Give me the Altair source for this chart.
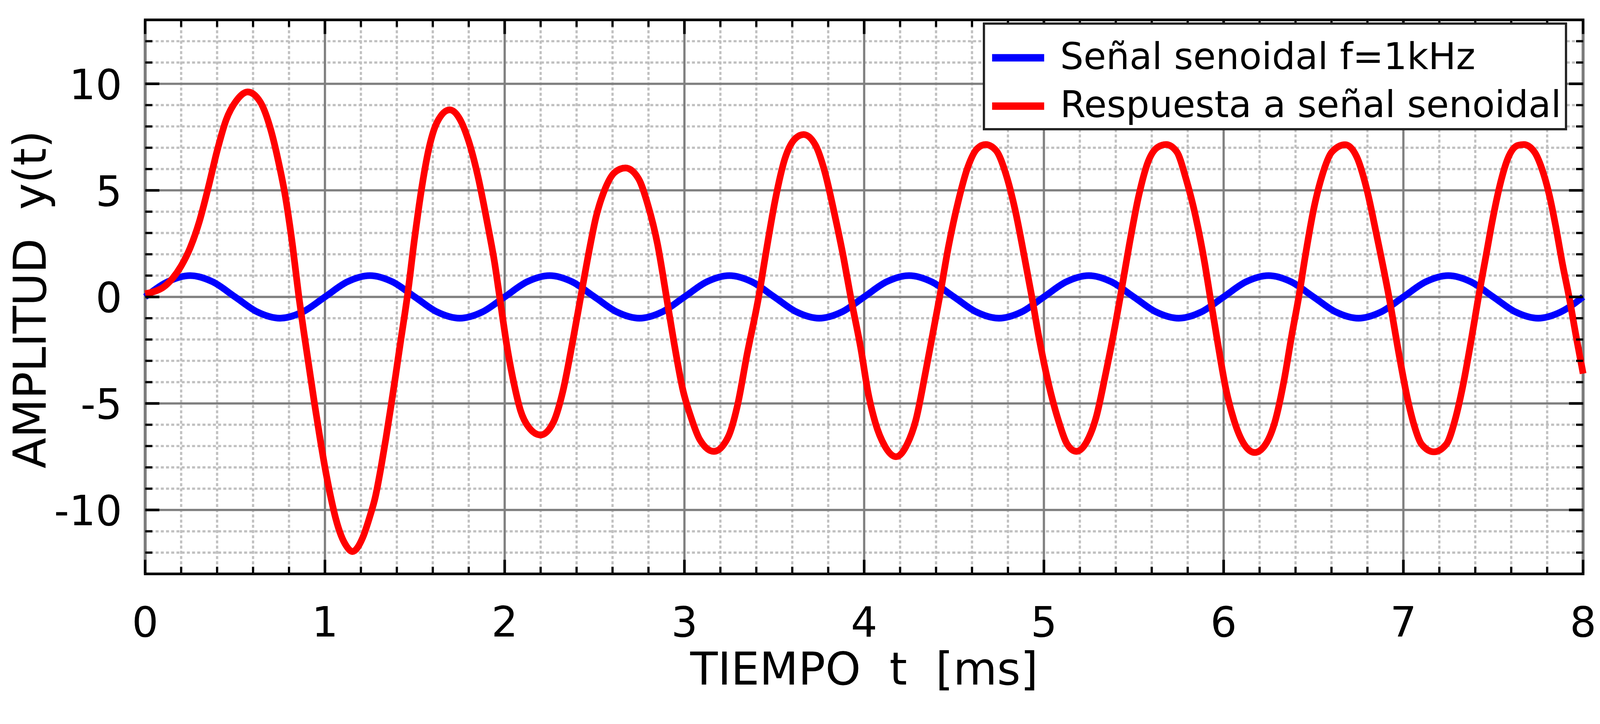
import altair as alt
import pandas as pd

W, H = 3866, 1490

serie_names = ["Señal senoidal f=1kHz", "Respuesta a señal senoidal"]
serie_colors = ["#0000ff", "#ff0000"]

blue_t = [0.0, 0.125, 0.25, 0.375, 0.5, 0.625, 0.75, 0.875, 1.0, 1.125, 1.25, 1.375, 1.5, 1.625, 1.75, 1.875,
          2.0, 2.125, 2.25, 2.375, 2.5, 2.625, 2.75, 2.875, 3.0, 3.125, 3.25, 3.375, 3.5, 3.625, 3.75, 3.875,
          4.0, 4.125, 4.25, 4.375, 4.5, 4.625, 4.75, 4.875, 5.0, 5.125, 5.25, 5.375, 5.5, 5.625, 5.75, 5.875,
          6.0, 6.125, 6.25, 6.375, 6.5, 6.625, 6.75, 6.875, 7.0, 7.125, 7.25, 7.375, 7.5, 7.625, 7.75, 7.875, 8.0]
blue_v = [0.0, 0.71, 1.0, 0.71, 0.0, -0.71, -1.0, -0.71, 0.0, 0.71, 1.0, 0.71, 0.0, -0.71, -1.0, -0.71,
          0.0, 0.71, 1.0, 0.71, 0.0, -0.71, -1.0, -0.71, 0.0, 0.71, 1.0, 0.71, 0.0, -0.71, -1.0, -0.71,
          0.0, 0.71, 1.0, 0.71, 0.0, -0.71, -1.0, -0.71, 0.0, 0.71, 1.0, 0.71, 0.0, -0.71, -1.0, -0.71,
          0.0, 0.71, 1.0, 0.71, 0.0, -0.71, -1.0, -0.71, 0.0, 0.71, 1.0, 0.71, 0.0, -0.71, -1.0, -0.71, 0.0]

red_t = [0.00, 0.05, 0.10, 0.15, 0.20, 0.25, 0.30, 0.35, 0.40, 0.45, 0.51, 0.57, 0.64, 0.70, 0.74, 0.78, 0.82, 0.855,
         0.88, 0.91, 0.94, 0.97, 1.00, 1.03, 1.06, 1.09, 1.12, 1.153, 1.21, 1.25, 1.28, 1.314, 1.34, 1.366, 1.393,
         1.419, 1.446, 1.458, 1.498, 1.54, 1.582, 1.624, 1.694, 1.75, 1.80, 1.85, 1.905, 1.944, 1.972,
         2.016, 2.055, 2.088, 2.134, 2.20, 2.27, 2.324, 2.377, 2.423, 2.462, 2.508, 2.56, 2.613, 2.672, 2.744,
         2.797, 2.85, 2.90, 2.94, 2.993, 3.033, 3.085, 3.164, 3.243, 3.295, 3.348, 3.413, 3.453, 3.505, 3.558,
         3.61, 3.663, 3.728, 3.78, 3.833, 3.886, 3.925, 3.983, 4.022, 4.062, 4.115, 4.178, 4.24, 4.287, 4.34,
         4.38, 4.42, 4.47, 4.524, 4.577, 4.63, 4.676, 4.735, 4.788, 4.84, 4.893, 4.933, 4.973, 5.026, 5.08,
         5.13, 5.18, 5.238, 5.29, 5.343, 5.396, 5.425, 5.476, 5.528, 5.58, 5.634, 5.68, 5.74, 5.79, 5.845,
         5.897, 5.925, 5.966, 6.012, 6.058, 6.113, 6.173, 6.233, 6.288, 6.335, 6.38, 6.418, 6.454, 6.50,
         6.547, 6.602, 6.676, 6.74, 6.795, 6.85, 6.92, 6.98, 7.022, 7.06, 7.10, 7.17, 7.24, 7.286, 7.333,
         7.38, 7.418, 7.458, 7.497, 7.535, 7.58, 7.637, 7.67, 7.73, 7.77, 7.81, 7.847, 7.886, 7.922, 7.963, 8.00]
red_v = [0.15, 0.25, 0.45, 0.85, 1.45, 2.3, 3.5, 5.1, 6.85, 8.3, 9.24, 9.62, 9.15, 7.80, 6.40, 4.70, 2.40, 0.0,
         -1.5, -3.2, -4.9, -6.5, -8.0, -9.3, -10.4, -11.2, -11.7, -11.95, -11.3, -10.3, -9.4, -7.9, -6.6, -5.2, -3.7,
         -2.2, -0.7, 0.0, 2.7, 5.2, 7.1, 8.2, 8.78, 8.35, 7.3, 5.7, 3.4, 1.6, 0.0,
         -2.49, -4.2, -5.33, -6.12, -6.48, -5.9, -4.42, -2.15, 0.0, 1.81, 3.74, 5.1, 5.85, 6.05, 5.56,
         4.31, 2.49, 0.0, -2.04, -4.42, -5.56, -6.69, -7.25, -6.58, -5.1, -2.72, 0.0, 2.04, 4.54, 6.46,
         7.37, 7.62, 7.14, 5.9, 3.97, 1.81, 0.0, -2.5, -4.5, -5.9, -7.0, -7.5, -6.9, -5.8, -3.6,
         -1.8, 0.0, 2.4, 4.5, 6.1, 6.97, 7.15, 6.86, 5.78, 4.08, 1.81, 0.0, -1.93, -4.08, -5.78,
         -6.92, -7.25, -6.8, -5.67, -3.63, -1.36, 0.0, 2.49, 4.76, 6.35, 7.03, 7.15, 6.8, 5.56, 3.74,
         1.47, 0.0, -2.1, -4.3, -5.8, -6.9, -7.3, -6.92, -5.78, -3.97, -1.75, 0.0, 1.9, 4.08,
         5.67, 6.8, 7.14, 6.58, 5.1, 2.95, 0.0, -2.9, -4.74, -6.03, -6.9, -7.27, -6.9, -5.82, -4.09,
         -1.9, 0.0, 1.85, 3.66, 5.17, 6.47, 7.11, 7.15, 6.79, 6.03, 4.85, 3.34, 1.51, 0.0, -1.94, -3.6]

x_major = [0, 1, 2, 3, 4, 5, 6, 7, 8]
x_labels = ["0", "1", "2", "3", "4", "5", "6", "7", "8"]
x_minor = [0.2, 0.4, 0.6, 0.8, 1.2, 1.4, 1.6, 1.8, 2.2, 2.4, 2.6, 2.8, 3.2, 3.4, 3.6, 3.8,
           4.2, 4.4, 4.6, 4.8, 5.2, 5.4, 5.6, 5.8, 6.2, 6.4, 6.6, 6.8, 7.2, 7.4, 7.6, 7.8]
y_major = [-10, -5, 0, 5, 10]
y_labels = ["-10", "-5", "0", "5", "10"]
y_minor = [-12, -11, -9, -8, -7, -6, -4, -3, -2, -1, 1, 2, 3, 4, 6, 7, 8, 9, 11, 12]

x_title = "TIEMPO\u00a0\u00a0t\u00a0\u00a0[ms]"
y_title = "AMPLITUD\u00a0\u00a0y(t)"

FONT = "DejaVu Sans"
xs = alt.Scale(domain=[0, 8], nice=False, zero=False)
ys = alt.Scale(domain=[-13, 13], nice=False, zero=False)

xmaj = pd.DataFrame({"gx": x_major, "lab": x_labels})
xmin = pd.DataFrame({"gx": x_minor})
ymaj = pd.DataFrame({"gy": y_major, "lab": y_labels})
ymin = pd.DataFrame({"gy": y_minor})

MAJ, MIN = 38, 19


def vrule(df, y0, y1, **kw):
    return alt.Chart(df).mark_rule(**kw).encode(
        x=alt.X("gx:Q", scale=xs, axis=None), y=alt.value(y0), y2=alt.value(y1))


def hrule(df, x0, x1, **kw):
    return alt.Chart(df).mark_rule(**kw).encode(
        y=alt.Y("gy:Q", scale=ys, axis=None), x=alt.value(x0), x2=alt.value(x1))


minor_style = dict(color="#c0c0c0", strokeWidth=6, strokeDash=[8, 6])
major_style = dict(color="#808080", strokeWidth=6)
tick_maj = dict(color="black", strokeWidth=7)
tick_min = dict(color="black", strokeWidth=6)

legend = alt.Legend(title=None, orient="none", legendX=2255, legendY=10, direction="vertical",
                    symbolType="stroke", symbolStrokeWidth=20, symbolSize=19600, symbolOffset=0,
                    labelOffset=33, labelFontSize=99, labelFont=FONT, labelColor="black", labelLimit=3000,
                    rowPadding=-24, padding=12, strokeColor="#222222", fillColor="white")
color = alt.Color("serie:N", scale=alt.Scale(domain=serie_names, range=serie_colors), legend=legend)

blue_df = pd.DataFrame({"t": blue_t, "v": blue_v, "serie": serie_names[0]})
red_df = pd.DataFrame({"t": red_t, "v": red_v, "serie": serie_names[1]})


def series_line(df):
    return alt.Chart(df).mark_line(strokeWidth=18, interpolate="monotone").encode(
        x=alt.X("t:Q", scale=xs, axis=None),
        y=alt.Y("v:Q", scale=ys, axis=None),
        color=color)


# tick labels and axis titles (text marks placed through the same scales)
x_tick_text = alt.Chart(xmaj).mark_text(font=FONT, fontSize=112, color="black", align="center",
                                        baseline="alphabetic").encode(
    x=alt.X("gx:Q", scale=xs, axis=None), y=alt.value(H + 168), text="lab:N")
y_tick_text = alt.Chart(ymaj).mark_text(font=FONT, fontSize=112, color="black", align="right",
                                        baseline="alphabetic", dy=41).encode(
    y=alt.Y("gy:Q", scale=ys, axis=None), x=alt.value(-62), text="lab:N")
x_title_text = alt.Chart(pd.DataFrame({"lab": [x_title]})).mark_text(
    font=FONT, fontSize=121, color="black", align="center", baseline="alphabetic").encode(
    x=alt.value(W / 2), y=alt.value(H + 298), text="lab:N")
y_title_text = alt.Chart(pd.DataFrame({"lab": [y_title]})).mark_text(
    font=FONT, fontSize=121, color="black", align="center", baseline="alphabetic", angle=270).encode(
    x=alt.value(-268), y=alt.value(H / 2 + 7), text="lab:N")

layers = [
    vrule(xmin, 0, H, **minor_style),
    hrule(ymin, 0, W, **minor_style),
    vrule(xmaj, 0, H, **major_style),
    hrule(ymaj, 0, W, **major_style),
    series_line(blue_df),
    series_line(red_df),
    vrule(xmaj, H, H - MAJ, **tick_maj),
    vrule(xmaj, 0, MAJ, **tick_maj),
    vrule(xmin, H, H - MIN, **tick_min),
    vrule(xmin, 0, MIN, **tick_min),
    hrule(ymaj, 0, MAJ, **tick_maj),
    hrule(ymaj, W, W - MAJ, **tick_maj),
    hrule(ymin, 0, MIN, **tick_min),
    hrule(ymin, W, W - MIN, **tick_min),
    x_tick_text,
    y_tick_text,
    x_title_text,
    y_title_text,
]

chart = alt.layer(*layers).properties(
    width=W, height=H,
    autosize=alt.AutoSizeParams(type="none"),
    padding={"left": 382, "top": 0, "right": 37, "bottom": 305},
).configure(font=FONT).configure_view(stroke="black", strokeWidth=7).configure_legend(strokeWidth=6)

chart.save("out.html", embed_options={"renderer": "svg", "actions": False})
